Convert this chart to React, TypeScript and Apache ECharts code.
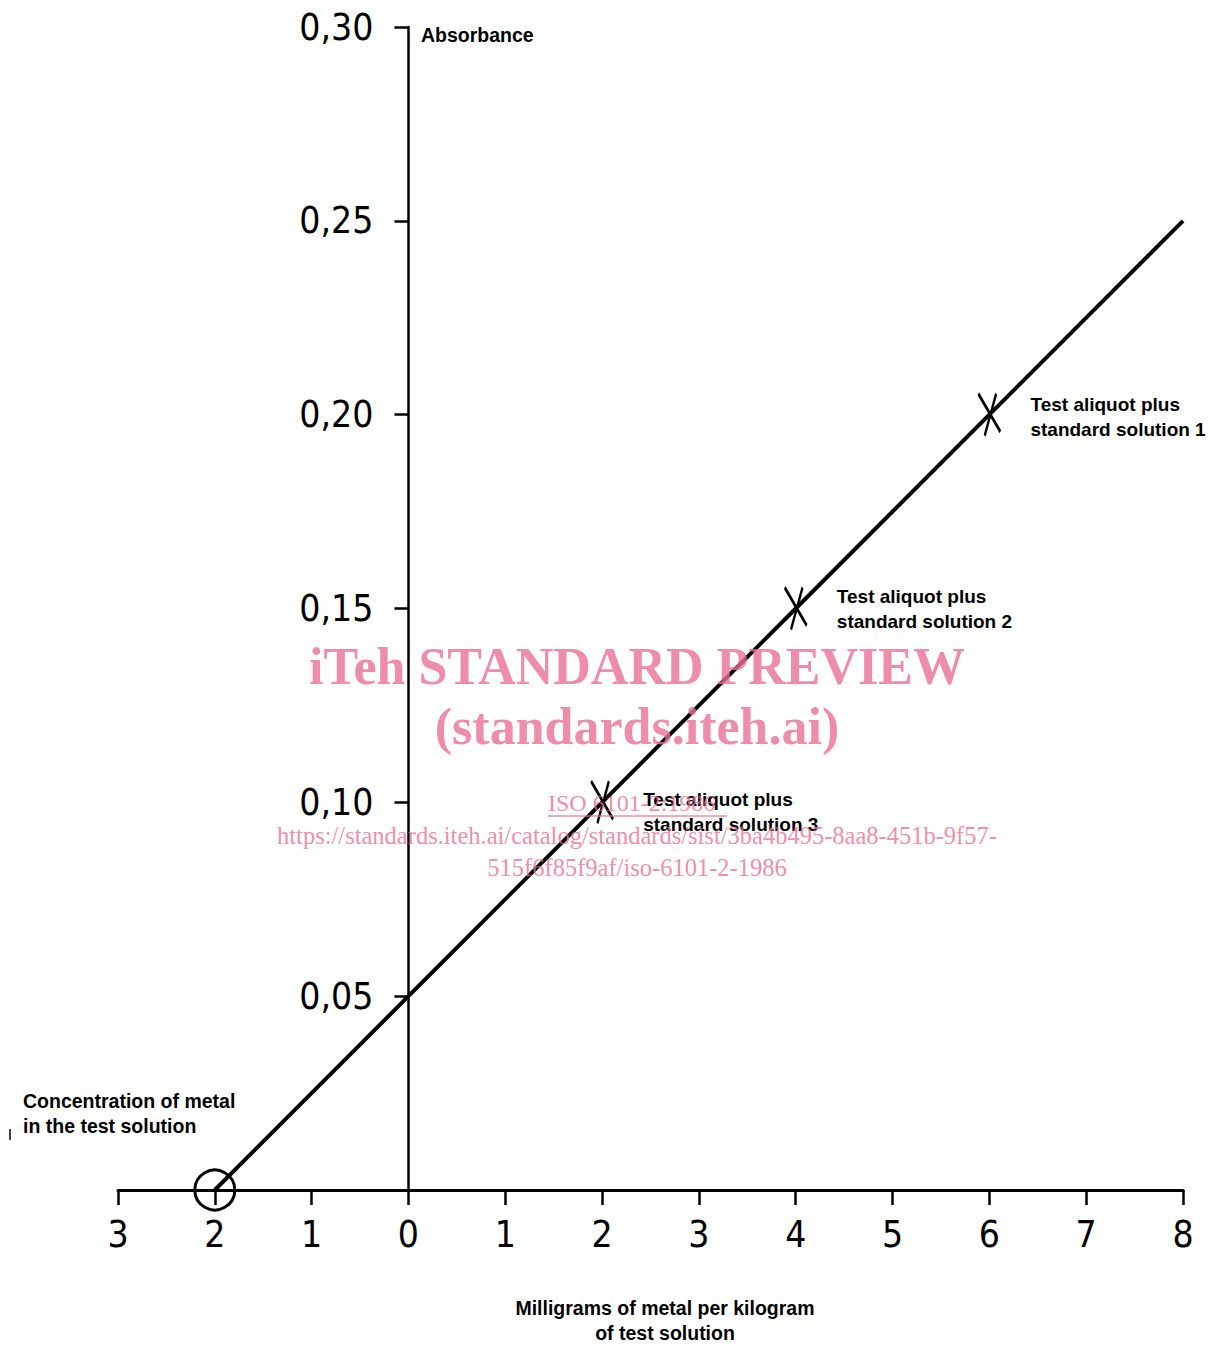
import React, { useEffect, useRef } from "react";
import * as echarts from "echarts";

// ---- data ----
const xTicks = [-3, 8, 1]; // min, max, interval
const yTicks = [0, 0.3, 0.05];
const lineX = [-2, 0, 2, 4, 6, 8];
const lineY = [0, 0.05, 0.1, 0.15, 0.2, 0.25];
const markX = [2, 4, 6];
const markY = [0.1, 0.15, 0.2];
const markLabels = [
  "Test aliquot plus\nstandard solution 3",
  "Test aliquot plus\nstandard solution 2",
  "Test aliquot plus\nstandard solution 1",
];
const markLabelOffsets = [
  [24, 10],
  [24, 0],
  [24, 2],
];
const originX = [-2];
const originY = [0];
const yTitle = "Absorbance";
const xTitle = "Milligrams of metal per kilogram\nof test solution";
const leftNote = "Concentration of metal\nin the test solution";
const wm1 = "iTeh STANDARD PREVIEW";
const wm2 = "(standards.iteh.ai)";
const wm3 = "ISO 6101-2:1986";
const wm4 = "https://standards.iteh.ai/catalog/standards/sist/3ba4b495-8aa8-451b-9f57-";
const wm5 = "515f6f85f9af/iso-6101-2-1986";

const AXIS_FONT = '"DejaVu Sans Condensed", "DejaVu Sans", sans-serif';
const TEXT_FONT = '"Liberation Sans", Arial, sans-serif';
const SERIF = '"Liberation Serif", "Times New Roman", serif';
const PINK = "rgba(232,112,148,0.8)";

const GRID_LEFT = 118;
const GRID_RIGHT = 26;
const WIDTH = 1209;

export default function App() {
  const ref = useRef<HTMLDivElement>(null);
  useEffect(() => {
    if (!ref.current) return;
    const chart = echarts.init(ref.current, null, { renderer: "svg" });
    // y-axis sits at x = 0 of the x scale
    const unit = (WIDTH - GRID_LEFT - GRID_RIGHT) / (xTicks[1] - xTicks[0]);
    const yAxisOffset = -(0 - xTicks[0]) * unit;
    const option: any = {
      animation: false,
      backgroundColor: "#ffffff",
      grid: { left: GRID_LEFT, right: GRID_RIGHT, top: 27, bottom: 157, containLabel: false },
      xAxis: {
        type: "value",
        min: xTicks[0],
        max: xTicks[1],
        interval: xTicks[2],
        splitLine: { show: false },
        axisLine: { show: true, onZero: true, lineStyle: { color: "#000", width: 3 } },
        axisTick: { show: true, inside: false, length: 15, lineStyle: { color: "#000", width: 2.5 } },
        axisLabel: {
          margin: 26,
          color: "#000",
          fontFamily: AXIS_FONT,
          fontSize: 37,
          formatter: (v: number) => String(Math.abs(v)),
        },
      },
      yAxis: {
        type: "value",
        min: yTicks[0],
        max: yTicks[1],
        interval: yTicks[2],
        offset: yAxisOffset,
        splitLine: { show: false },
        axisLine: { show: true, onZero: false, lineStyle: { color: "#000", width: 2.5 } },
        axisTick: { show: true, inside: false, length: 14, lineStyle: { color: "#000", width: 2.5 } },
        axisLabel: {
          margin: 35,
          color: "#000",
          fontFamily: AXIS_FONT,
          fontSize: 37,
          formatter: (v: number) => (v === 0 ? "" : v.toFixed(2).replace(".", ",")),
        },
      },
      series: [
        {
          type: "line",
          data: lineX.map((x, i) => [x, lineY[i]]),
          showSymbol: false,
          lineStyle: { color: "#000", width: 4 },
          z: 3,
        },
        {
          type: "scatter",
          data: markX.map((x, i) => ({
            value: [x, markY[i]],
            label: {
              show: true,
              position: "right",
              offset: markLabelOffsets[i],
              formatter: markLabels[i],
              color: "#000",
              fontFamily: TEXT_FONT,
              fontWeight: "bold",
              fontSize: 19,
              lineHeight: 25,
              align: "left",
            },
          })),
          symbol: "path://M0,0 L21,38 M17,0 L6,42",
          symbolSize: [22, 42],
          itemStyle: { color: "transparent", borderColor: "#000", borderWidth: 3, opacity: 1 },
          z: 4,
        },
        {
          type: "scatter",
          data: originX.map((x, i) => [x, originY[i]]),
          symbol: "circle",
          symbolSize: 40,
          itemStyle: { color: "transparent", borderColor: "#000", borderWidth: 3, opacity: 1 },
          z: 4,
        },
      ],
      graphic: [
        {
          type: "text",
          left: 421,
          top: 25,
          style: { text: yTitle, fontFamily: TEXT_FONT, fontWeight: "bold", fontSize: 19.5, fill: "#000" },
        },
        {
          type: "text",
          left: 23,
          top: 1088,
          style: { text: leftNote, fontFamily: TEXT_FONT, fontWeight: "bold", fontSize: 19.5, lineHeight: 25, fill: "#000" },
        },
        {
          type: "line",
          shape: { x1: 10, y1: 1129, x2: 10, y2: 1140 },
          style: { stroke: "#000", lineWidth: 1.5 },
        },
        {
          type: "text",
          x: 665,
          y: 1295,
          style: {
            text: xTitle,
            fontFamily: TEXT_FONT,
            fontWeight: "bold",
            fontSize: 19.5,
            lineHeight: 25,
            fill: "#000",
            align: "center",
          },
        },
        {
          type: "text",
          x: 637,
          y: 640,
          z: 10,
          style: { text: wm1, fontFamily: SERIF, fontWeight: "bold", fontSize: 52, fill: PINK, align: "center" },
        },
        {
          type: "text",
          x: 637,
          y: 700,
          z: 10,
          style: { text: wm2, fontFamily: SERIF, fontWeight: "bold", fontSize: 52, fill: PINK, align: "center" },
        },
        {
          type: "text",
          x: 548,
          y: 791,
          z: 10,
          style: { text: wm3, fontFamily: SERIF, fontSize: 24, fill: PINK },
        },
        {
          type: "line",
          z: 10,
          shape: { x1: 548, y1: 816, x2: 727, y2: 816 },
          style: { stroke: PINK, lineWidth: 1.5 },
        },
        {
          type: "text",
          x: 637,
          y: 823,
          z: 10,
          style: { text: wm4, fontFamily: SERIF, fontSize: 24.5, fill: PINK, align: "center" },
        },
        {
          type: "text",
          x: 637,
          y: 855,
          z: 10,
          style: { text: wm5, fontFamily: SERIF, fontSize: 24.5, fill: PINK, align: "center" },
        },
      ],
    };
    chart.setOption(option);
    return () => chart.dispose();
  }, []);
  return (
    <div
      ref={ref}
      style={{ position: "fixed", left: 0, top: 0, width: 1209, height: 1347, background: "#fff" }}
    />
  );
}
